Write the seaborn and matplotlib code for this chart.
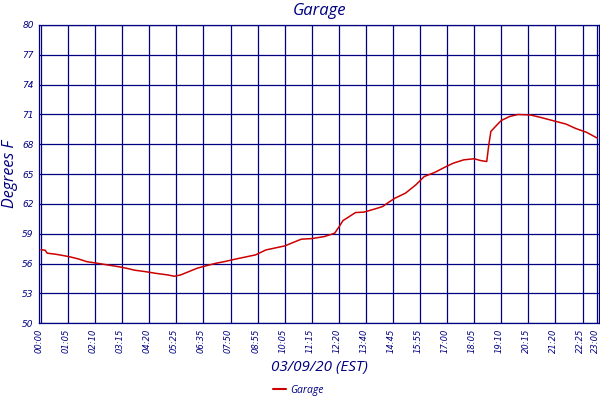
import matplotlib
matplotlib.use("Agg")
import matplotlib.pyplot as plt
import matplotlib.transforms as mtransforms
from matplotlib.lines import Line2D
import seaborn as sns
import pandas as pd

# Sample index (5-minute samples) and temperature readings (Degrees F)
sample_idx = [0, 2, 3, 7, 11, 14, 18, 22, 27, 32, 37, 41, 45, 50, 55, 61, 64, 67,
              71, 75, 79, 84, 88, 93, 103, 108, 117, 125, 130, 136, 141, 143, 145,
              148, 151, 155, 160, 164, 167, 170, 175, 180, 184, 189, 194, 198, 203,
              208, 211, 214, 215, 216, 219, 221, 225, 229, 235, 240, 246, 252, 257,
              262, 267]
temps = [57.4, 57.35, 57.05, 56.95, 56.8, 56.68, 56.47, 56.2, 56.04, 55.87, 55.7,
         55.54, 55.34, 55.2, 55.03, 54.86, 54.73, 54.86, 55.2, 55.54, 55.77, 56.04,
         56.2, 56.44, 56.88, 57.38, 57.78, 58.46, 58.52, 58.72, 59.06, 59.67, 60.33,
         60.73, 61.14, 61.18, 61.48, 61.74, 62.18, 62.59, 63.09, 63.93, 64.76, 65.17,
         65.71, 66.11, 66.44, 66.55, 66.37, 66.27, 67.96, 69.3, 69.97, 70.4, 70.8,
         71.0, 70.95, 70.7, 70.37, 70.04, 69.57, 69.2, 68.63]

tick_idx = [0, 13, 26, 39, 52, 65, 78, 91, 104, 117, 130, 143, 156, 169, 182,
            195, 208, 221, 234, 247, 260, 267]
tick_labels = ["00:00", "01:05", "02:10", "03:15", "04:20", "05:25", "06:35",
               "07:50", "08:55", "10:05", "11:15", "12:20", "13:40", "14:45",
               "15:55", "17:00", "18:05", "19:10", "20:15", "21:20", "22:25", "23:00"]
y_ticks = [50, 53, 56, 59, 62, 65, 68, 71, 74, 77, 80]
series_name = "Garage"

NAVY = "#000080"
RED = "#CC0000"

sns.set_style("white")
plt.rcParams["font.family"] = ["DejaVu Sans"]

df = pd.DataFrame({"idx": sample_idx, "temp": temps, "series": series_name})

fig = plt.figure(figsize=(6, 4), dpi=100)
ax = fig.add_axes([39.3 / 600, 1 - 323.3 / 400, (599 - 39.3) / 600, (323.3 - 25) / 400])

sns.lineplot(data=df, x="idx", y="temp", hue="series", palette=[RED],
             linewidth=1.1, ax=ax, legend=False, zorder=3)

ax.set_xlim(-0.8, 267.9)
ax.set_ylim(50, 80)
ax.set_xticks(tick_idx)
ax.set_xticklabels(tick_labels, rotation=90, fontsize=6, style="italic", color=NAVY)
ax.set_yticks(y_ticks)
ax.set_yticklabels([str(v) for v in y_ticks], fontsize=6.5, style="italic", color=NAVY)
ax.tick_params(axis="both", length=0, pad=4)
ax.grid(True, color=NAVY, linewidth=0.9)
ax.set_axisbelow(True)
for s in ax.spines.values():
    s.set_color(NAVY)
    s.set_linewidth(0.9)
    s.set_visible(True)

# nudge x tick labels slightly left (as in the reference)
offset = mtransforms.ScaledTranslation(-2 / 100, 0, fig.dpi_scale_trans)
for lbl in ax.get_xticklabels():
    lbl.set_transform(lbl.get_transform() + offset)

tf = dict(family="Open Sans", style="italic", color=NAVY)
ax.set_title("Garage", fontsize=12, pad=7.5, **tf)
ax.set_xlabel("03/09/20 (EST)", fontsize=11, labelpad=5, **tf)
ax.set_ylabel("Degrees F", fontsize=11.5, labelpad=3, **tf)

handle = Line2D([], [], color=RED, linewidth=1.5)
leg = fig.legend([handle], [series_name], loc="center", bbox_to_anchor=(0.497, 1 - 390 / 400),
                 frameon=False, handlelength=1.2, handletextpad=0.4,
                 prop=dict(family="Open Sans", style="italic", size=7.5))
for t in leg.get_texts():
    t.set_color(NAVY)

fig.savefig("out.png", dpi=100)
